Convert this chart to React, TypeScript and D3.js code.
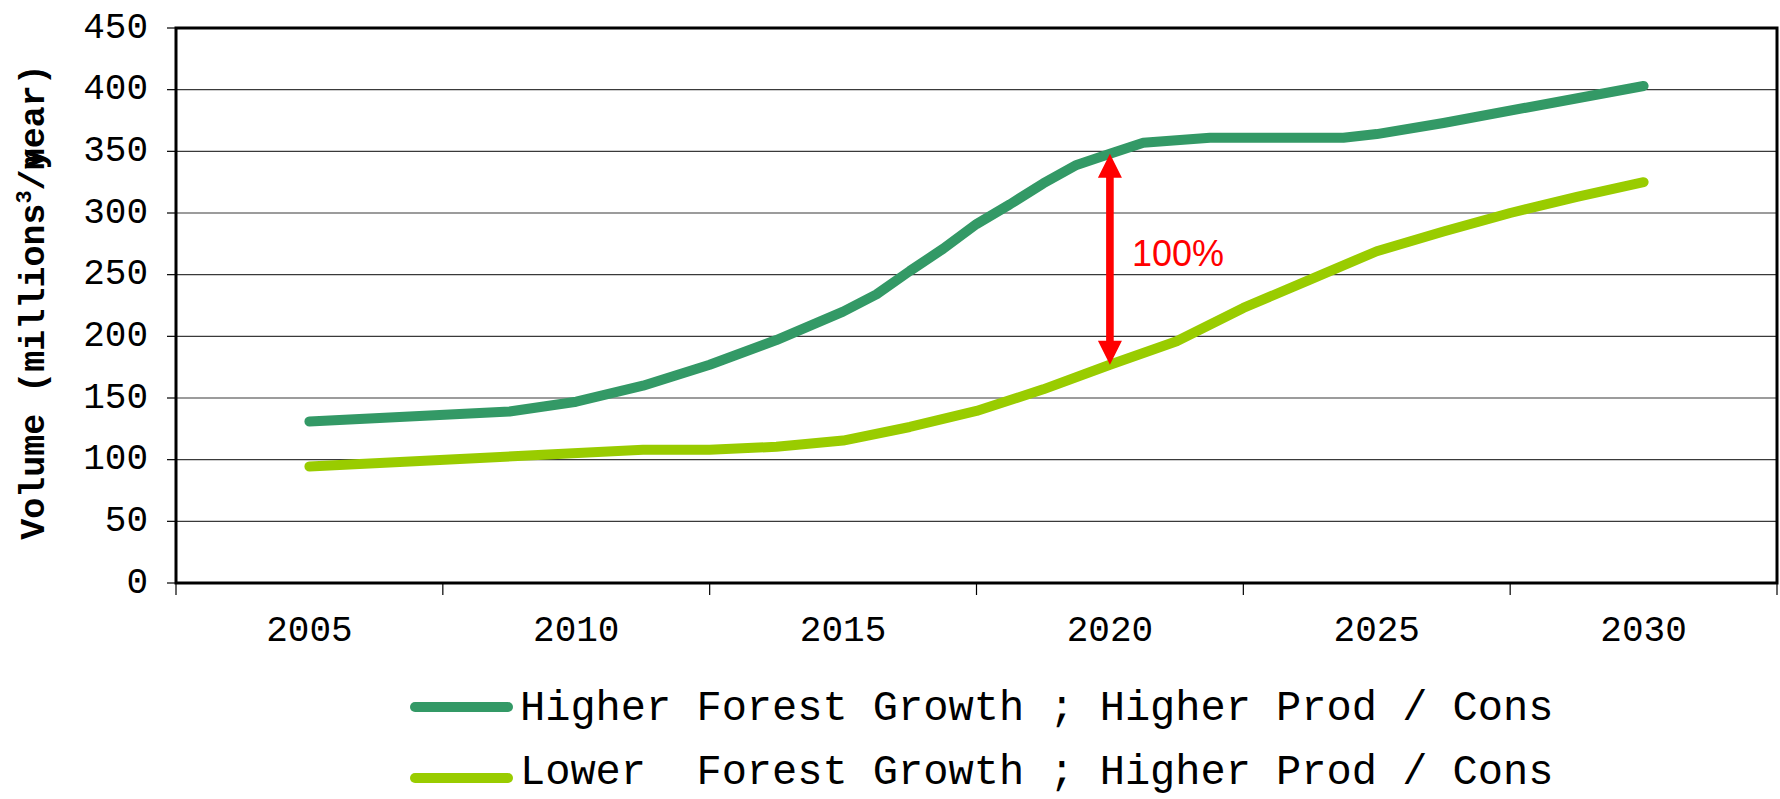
import React from "react";
import * as d3 from "d3";

const yearLabels = ["2005", "2010", "2015", "2020", "2025", "2030"];
const yTicks = [0, 50, 100, 150, 200, 250, 300, 350, 400, 450];

const higherYears = [2005, 2008.75, 2010, 2011.25, 2012.5, 2013.75, 2015, 2015.625, 2016.25, 2016.875, 2017.5, 2018.125, 2018.75, 2019.375, 2020, 2020.625, 2021.875, 2024.375, 2025, 2026.25, 2030];
const higherValues = [131, 139, 147, 160, 177, 197, 220, 234, 253, 271, 291, 307, 324, 339, 348, 357, 361, 361, 364, 373, 403];

const lowerYears = [2005, 2011.25, 2012.5, 2013.75, 2015, 2016.25, 2017.5, 2018.75, 2020, 2021.25, 2022.5, 2023.75, 2025, 2026.25, 2027.5, 2028.75, 2030];
const lowerValues = [94.5, 108, 108, 110.5, 115.5, 126.5, 139.5, 157, 177, 196, 223, 246, 269, 285, 300, 313, 325];

const seriesNames = [
  "Higher Forest Growth ; Higher Prod / Cons",
  "Lower  Forest Growth ; Higher Prod / Cons",
];
const seriesColors = ["#339966", "#99CC00"];

const arrowYear = 2020;
const arrowFrom = 348;
const arrowTo = 177;
const arrowLabel = "100%";

const W = 1780;
const H = 799;
const M = { left: 176, right: 1777, top: 28, bottom: 583 };
const MONO = "'Courier New', 'Liberation Mono', monospace";

export default function App() {
  const xBand = d3.scaleBand<string>().domain(yearLabels).range([M.left, M.right]);
  const c0 = (xBand("2005") as number) + xBand.bandwidth() / 2;
  const c1 = (xBand("2030") as number) + xBand.bandwidth() / 2;
  const x = d3.scaleLinear().domain([2005, 2030]).range([c0, c1]);
  const y = d3.scaleLinear().domain([0, 450]).range([M.bottom, M.top]);

  const line = d3
    .line<[number, number]>()
    .x((d) => x(d[0]))
    .y((d) => y(d[1]));

  const higher: [number, number][] = higherYears.map((yr, i) => [yr, higherValues[i]]);
  const lower: [number, number][] = lowerYears.map((yr, i) => [yr, lowerValues[i]]);

  const bounds = yearLabels.map((l) => xBand(l) as number).concat([M.right]);

  const ax = x(arrowYear);
  const aTop = y(arrowFrom);
  const aBot = y(arrowTo);
  const hw = 12;
  const hh = 24;
  const sw = 3.8;
  const arrowPath = [
    `M${ax},${aTop}`,
    `L${ax + hw},${aTop + hh}`,
    `L${ax + sw},${aTop + hh}`,
    `L${ax + sw},${aBot - hh}`,
    `L${ax + hw},${aBot - hh}`,
    `L${ax},${aBot}`,
    `L${ax - hw},${aBot - hh}`,
    `L${ax - sw},${aBot - hh}`,
    `L${ax - sw},${aTop + hh}`,
    `L${ax - hw},${aTop + hh}`,
    "Z",
  ].join(" ");

  return (
    <svg
      width={W}
      height={H}
      style={{ position: "absolute", left: 0, top: 0, background: "#fff" }}
    >
      {yTicks
        .filter((t) => t > 0 && t < 450)
        .map((t) => (
          <line key={"g" + t} x1={M.left} x2={M.right} y1={y(t)} y2={y(t)} stroke="#3a3a3a" strokeWidth={1.2} />
        ))}
      {yTicks.map((t) => (
        <line key={"yt" + t} x1={M.left - 9} x2={M.left} y1={y(t)} y2={y(t)} stroke="#000" strokeWidth={1.2} />
      ))}
      {bounds.map((b, i) => (
        <line key={"xt" + i} x1={b} x2={b} y1={M.bottom} y2={M.bottom + 12} stroke="#000" strokeWidth={1.2} />
      ))}
      {yTicks.map((t) => (
        <text
          key={"yl" + t}
          x={148}
          y={y(t)}
          textAnchor="end"
          dominantBaseline="central"
          fontFamily={MONO}
          fontSize={36}
          fill="#000"
        >
          {t}
        </text>
      ))}
      {yearLabels.map((l) => (
        <text
          key={"xl" + l}
          x={(xBand(l) as number) + xBand.bandwidth() / 2}
          y={641}
          textAnchor="middle"
          fontFamily={MONO}
          fontSize={36}
          fill="#000"
        >
          {l}
        </text>
      ))}
      <rect x={M.left} y={M.top} width={M.right - M.left} height={M.bottom - M.top} fill="none" stroke="#000" strokeWidth={3} />

      <path d={line(higher) || ""} fill="none" stroke={seriesColors[0]} strokeWidth={10} strokeLinecap="round" strokeLinejoin="round" />
      <path d={line(lower) || ""} fill="none" stroke={seriesColors[1]} strokeWidth={10} strokeLinecap="round" strokeLinejoin="round" />

      <path d={arrowPath} fill="#FF0000" />
      <text x={ax + 22} y={266} fontFamily="Arial, 'Liberation Sans', sans-serif" fontSize={36} fill="#FF0000">
        {arrowLabel}
      </text>

      <text
        transform="translate(44,302) rotate(-90)"
        textAnchor="middle"
        fontFamily={MONO}
        fontWeight="bold"
        fontSize={35}
        fill="#000"
      >
        Volume (millions
        <tspan fontSize={22} dy={-13}>3</tspan>
        <tspan dy={13}>/m</tspan>
        <tspan dx={-21}>year)</tspan>
      </text>

      {seriesNames.map((n, i) => (
        <g key={"lg" + i}>
          <line x1={415} x2={508} y1={707 + i * 71} y2={707 + i * 71} stroke={seriesColors[i]} strokeWidth={10} strokeLinecap="round" />
          <text x={520} y={720 + i * 64} fontFamily={MONO} fontSize={42} fill="#000" style={{ whiteSpace: "pre" }}>
            {n}
          </text>
        </g>
      ))}
    </svg>
  );
}
